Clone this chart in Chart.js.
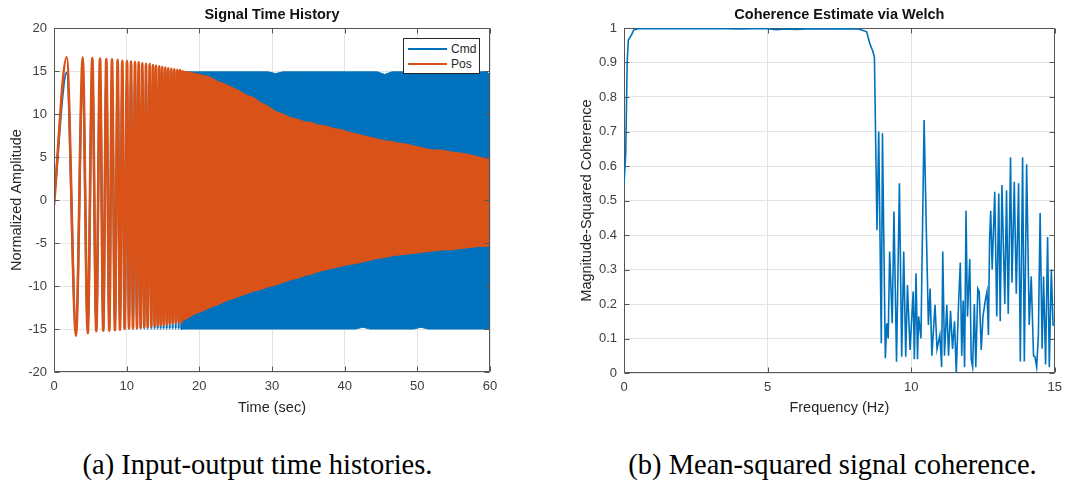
<!DOCTYPE html>
<html>
<head>
<meta charset="utf-8">
<script src="https://cdn.jsdelivr.net/npm/chart.js@4/dist/chart.umd.min.js"></script>
<style>
  body { margin: 0; width: 1069px; height: 481px; background: #fff; position: relative; overflow: hidden;
         font-family: "Liberation Sans", Arial, sans-serif; }
  .panel { position: absolute; top: 0; height: 425px; }
  #legend { position: absolute; left: 403px; top: 38px; width: 75px; height: 34px;
            border: 1px solid #262626; background: #fff; font-size: 12px; color: #262626; }
  #legend .item { position: absolute; left: 4px; height: 14px; line-height: 14px; }
  #legend .swatch { position: absolute; left: 0; top: 6px; width: 39px; height: 2px; }
  #legend .text { position: absolute; left: 43px; top: 0; }
  .caption { position: absolute; top: 447px; line-height: 36px; text-align: center;
             font-family: "Liberation Serif", "Times New Roman", serif; font-size: 28.5px; color: #000; }
</style>
</head>
<body>
<div class="panel" style="left:0; width:520px"><canvas id="signal"></canvas></div>
<div class="panel" style="left:560px; width:509px"><canvas id="coherence"></canvas></div>
<div id="legend">
  <div class="item" style="top:3px"><span class="swatch" style="background:#0072BD"></span><span class="text">Cmd</span></div>
  <div class="item" style="top:18px"><span class="swatch" style="background:#D95319"></span><span class="text">Pos</span></div>
</div>
<div class="caption" style="left:0; width:515px">(a) Input-output time histories.</div>
<div class="caption" style="left:600px; width:465px">(b) Mean-squared signal coherence.</div>

<script>
// ---- signal time history (left) ----
const timeTicks = [0, 10, 20, 30, 40, 50, 60]
const ampTicks = [-20, -15, -10, -5, 0, 5, 10, 15, 20]

// peaks and troughs of the sweep while they are still separable (sec)
const sweepTime = [
  0, 1.75, 3.03, 3.95, 4.64, 5.27, 5.82, 6.33, 6.78, 7.20, 7.61, 7.98, 8.39,
  8.76, 9.08, 9.40, 9.72, 10.05, 10.32, 10.60, 10.87, 11.15, 11.42, 11.65, 11.93,
  12.15, 12.42, 12.66, 12.89, 13.17, 13.39, 13.62, 13.85, 14.04, 14.27, 14.49,
  14.68, 14.90, 15.09, 15.32, 15.51, 15.73, 15.92, 16.15, 16.33, 16.56, 16.75,
  16.97, 17.16, 17.34, 17.52, 17.71
]
const cmdSweep = [
  0, 14.8, -15.0, 14.9, -15.0, 14.9, -15.0, 14.9, -15.0, 14.9, -15.0, 14.9, -15.0,
  14.9, -15.0, 14.9, -15.0, 14.9, -15.0, 14.9, -15.0, 14.9, -15.0, 14.9, -15.0,
  14.9, -15.0, 14.9, -15.0, 14.9, -15.0, 14.9, -15.0, 14.9, -15.0, 14.9,
  -15.0, 14.9, -15.0, 14.9, -15.0, 14.9, -15.0, 14.9, -15.0, 14.9, -15.0,
  14.9, -15.0, 14.9, -15.0, 14.9
]
const posSweep = [
  -0.6, 16.6, -15.8, 16.6, -15.5, 16.5, -15.25, 16.45, -15.2, 16.4, -15.2, 16.35, -15.15,
  16.3, -15.1, 16.2, -15.0, 16.15, -14.95, 16.1, -14.9, 16.05, -14.9, 16.0, -14.85,
  15.9, -14.8, 15.85, -14.75, 15.8, -14.7, 15.7, -14.65, 15.6, -14.6, 15.55,
  -14.55, 15.45, -14.5, 15.4, -14.45, 15.3, -14.4, 15.25, -14.35, 15.2, -14.3,
  15.15, -14.25, 15.1, -14.2, 15.05
]

// envelopes once the oscillation is too dense to separate
const bandTime = [
  17.5, 18.5, 19.5, 20.5, 21.5, 22.5, 23.5, 24.5, 25.5, 26.5, 27.5, 28.5, 29.5, 30.5,
  31.5, 32.5, 33.5, 34.5, 35.5, 36.5, 37.5, 38.5, 39.5, 40.5, 41.5, 42.5, 43.5, 44.5,
  45.5, 46.5, 47.5, 48.5, 49.5, 50.5, 51.5, 52.5, 53.5, 54.5, 55.5, 56.5, 57.5, 58.5,
  59.5, 60
]
const cmdTop = [
  14.9, 14.9, 14.9, 14.9, 14.9, 14.9, 14.9, 14.9, 14.9, 14.9, 14.9, 14.9, 14.9, 14.7,
  14.9, 14.9, 14.9, 14.9, 14.9, 14.9, 14.9, 14.9, 14.9, 14.9, 14.9, 14.9, 14.9, 14.9,
  14.6, 14.9, 14.9, 14.9, 14.9, 14.9, 14.7, 14.9, 14.9, 14.9, 14.9, 14.9, 14.9, 14.9,
  14.9, 14.6
]
const cmdBottom = [
  -15.0, -15.0, -15.0, -15.0, -15.0, -15.0, -15.0, -15.0, -15.0, -15.0, -15.0, -15.0, -15.0, -15.0,
  -15.0, -15.0, -15.0, -15.0, -15.0, -15.0, -15.0, -15.0, -15.0, -15.0, -15.0, -14.8, -15.0, -15.0,
  -15.0, -15.0, -15.0, -15.0, -15.0, -14.8, -15.0, -15.0, -15.0, -15.0, -15.0, -15.0, -15.0, -15.0,
  -15.0, -14.9
]
const posTop = [
  15.0, 14.9, 14.7, 14.5, 14.3, 13.8, 13.5, 13.1, 12.7, 12.2, 11.9, 11.3, 10.9, 10.3,
  10.0, 9.6, 9.4, 9.1, 9.0, 8.7, 8.6, 8.3, 8.2, 7.9, 7.7, 7.5, 7.3, 7.1,
  6.9, 6.8, 6.6, 6.5, 6.3, 6.1, 5.9, 5.8, 5.8, 5.6, 5.5, 5.4, 5.2, 5.0,
  4.8, 4.7
]
const posBottom = [
  -14.1, -13.7, -13.2, -12.9, -12.5, -12.2, -11.8, -11.5, -11.2, -10.9, -10.6, -10.4, -10.1, -9.9,
  -9.6, -9.3, -9.1, -8.8, -8.6, -8.3, -8.1, -7.9, -7.7, -7.5, -7.4, -7.2, -7.0, -6.8,
  -6.7, -6.5, -6.4, -6.3, -6.2, -6.1, -6.0, -5.9, -5.8, -5.8, -5.7, -5.6, -5.5, -5.4,
  -5.4, -5.3
]

// ---- coherence estimate (right) ----
const freqTicks = [0, 5, 10, 15]
const cohTicks = [0, 0.1, 0.2, 0.3, 0.4, 0.5, 0.6, 0.7, 0.8, 0.9, 1]
const cohFreq = [
  0, 0.06, 0.11, 0.15, 0.26, 0.34, 0.49, 0.9, 1.5, 2.0, 2.5, 3.0, 3.5, 4.0, 4.5, 5.0,
  5.3, 5.6, 6.0, 6.5, 7.0, 7.5, 8.0, 8.16, 8.33, 8.45, 8.56, 8.67, 8.72,
  8.81, 8.87, 8.96, 9.00, 9.10, 9.15, 9.20, 9.25, 9.34, 9.40, 9.49, 9.59, 9.67, 9.74,
  9.81, 9.87, 9.96, 10.07, 10.11, 10.17, 10.22, 10.26, 10.34, 10.45, 10.53, 10.60,
  10.66, 10.72, 10.83, 10.90, 11.00, 11.06, 11.10, 11.16, 11.24, 11.30, 11.37, 11.44,
  11.51, 11.57, 11.65, 11.71, 11.76, 11.81, 11.86, 11.91, 11.96, 12.04, 12.09, 12.14,
  12.20, 12.25, 12.32, 12.37, 12.44, 12.50, 12.58, 12.64, 12.69, 12.73, 12.77, 12.82,
  12.91, 12.98, 13.05, 13.10, 13.16, 13.26, 13.32, 13.38, 13.46, 13.51, 13.59, 13.66,
  13.74, 13.80, 13.88, 13.94, 14.02, 14.11, 14.18, 14.26, 14.31, 14.37, 14.43, 14.49,
  14.56, 14.61, 14.68, 14.75, 14.81, 14.88, 14.94, 15.0
]
const cohValue = [
  0.545, 0.637, 0.898, 0.965, 0.98, 0.994, 0.998, 0.999, 0.998, 0.999, 0.998, 0.999, 0.998, 0.997, 0.998, 0.998,
  0.995, 0.997, 0.996, 0.998, 0.997, 0.998, 0.997, 0.997, 0.993, 0.989, 0.955, 0.931, 0.915,
  0.414, 0.70, 0.086, 0.695, 0.043, 0.144, 0.10, 0.352, 0.144, 0.468, 0.033, 0.55, 0.047, 0.352,
  0.047, 0.255, 0.067, 0.236, 0.04, 0.289, 0.04, 0.164, 0.10, 0.733, 0.404, 0.139,
  0.245, 0.05, 0.198, 0.069, 0.11, 0.017, 0.352, 0.05, 0.198, 0.05, 0.18, 0.07,
  0.15, 0.0, 0.2, 0.32, 0.05, 0.21, 0.017, 0.47, 0.164, 0.33, 0.04, 0.017,
  0.2, 0.017, 0.245, 0.236, 0.067, 0.164, 0.21, 0.236, 0.11, 0.385, 0.47, 0.30,
  0.525, 0.164, 0.52, 0.15, 0.545, 0.20, 0.53, 0.172, 0.625, 0.262, 0.554, 0.23,
  0.55, 0.033, 0.625, 0.033, 0.605, 0.139, 0.28, 0.05, 0.047, 0.017, 0.11, 0.464,
  0.07, 0.28, 0.025, 0.394, 0.017, 0.30, 0.139, 0.14
]

const CMD = "#0072BD"
const POS = "#D95319"
const INK = "#262626"

Chart.defaults.font.family = "'Liberation Sans', Arial, sans-serif"
Chart.defaults.color = "#404040"
Chart.defaults.animation = false
Chart.defaults.events = []

const pts = (xs, ys) => xs.map((x, i) => ({ x, y: ys[i] }))

// matlab style box with inward ticks on all four sides
function drawFrame(chart) {
  const { ctx, chartArea: a, scales: { x, y } } = chart
  const l = Math.round(a.left) + 0.5, r = Math.round(a.right) - 0.5
  const t = Math.round(a.top) + 0.5, b = Math.round(a.bottom) - 0.5
  ctx.save()
  ctx.strokeStyle = "#555"
  ctx.lineWidth = 1
  ctx.beginPath()
  ctx.rect(l, t, r - l, b - t)
  x.ticks.forEach(tk => {
    const px = Math.round(x.getPixelForValue(tk.value)) + 0.5
    ctx.moveTo(px, b); ctx.lineTo(px, b - 5)
    ctx.moveTo(px, t); ctx.lineTo(px, t + 5)
  })
  y.ticks.forEach(tk => {
    const py = Math.round(y.getPixelForValue(tk.value)) + 0.5
    ctx.moveTo(l, py); ctx.lineTo(l + 5, py)
    ctx.moveTo(r, py); ctx.lineTo(r - 5, py)
  })
  ctx.stroke()
  ctx.restore()
}
const frameOnTop = { id: "frameOnTop", afterDatasetsDraw: drawFrame }
const frameBelow = { id: "frameBelow", beforeDatasetsDraw: drawFrame }

function axisOptions(ticks, min, max, title, fit, titlePad) {
  return {
    type: "linear",
    min, max,
    afterBuildTicks: s => { s.ticks = ticks.map(v => ({ value: v })) },
    afterFit: fit,
    grid: { color: "#e3e3e3", drawTicks: false },
    border: { display: false },
    ticks: { padding: 7, font: { size: 13 }, callback: v => String(+v.toFixed(1)) },
    title: { display: true, text: title, color: INK, font: { size: 14.5 }, padding: titlePad }
  }
}

function titleOptions(text) {
  return {
    display: true, text, fullSize: false, color: "#111",
    font: { size: 14.5, weight: "bold" },
    padding: { top: 6.3, bottom: 4.3 }
  }
}

new Chart(document.getElementById("signal"), {
  type: "line",
  data: {
    datasets: [
      { label: "Pos", data: pts(sweepTime, posSweep), borderColor: POS, borderWidth: 2.6,
        cubicInterpolationMode: "monotone", fill: false, order: 0 },
      { label: "Pos top", data: pts(bandTime, posTop), borderColor: POS, backgroundColor: POS,
        borderWidth: 1, fill: "+1", order: 0 },
      { label: "Pos bottom", data: pts(bandTime, posBottom), borderColor: POS,
        borderWidth: 1, fill: false, order: 0 },
      { label: "Cmd", data: pts(sweepTime, cmdSweep), borderColor: CMD, borderWidth: 2.2,
        cubicInterpolationMode: "monotone", fill: false, order: 1 },
      { label: "Cmd top", data: pts(bandTime, cmdTop), borderColor: CMD, backgroundColor: CMD,
        borderWidth: 1, fill: "+1", order: 1 },
      { label: "Cmd bottom", data: pts(bandTime, cmdBottom), borderColor: CMD,
        borderWidth: 1, fill: false, order: 1 }
    ]
  },
  options: {
    responsive: true,
    maintainAspectRatio: false,
    layout: { padding: { left: 0, right: 30, top: 0, bottom: 0 } },
    elements: { point: { radius: 0 }, line: { tension: 0 } },
    scales: {
      x: axisOptions(timeTicks, 0, 60, "Time (sec)", s => { s.height = 53 }, { bottom: 8.3 }),
      y: axisOptions(ampTicks, -20, 20, "Normalized Amplitude", s => { s.width = 54 }, { top: 8.3 })
    },
    plugins: {
      legend: { display: false },
      tooltip: { enabled: false },
      title: titleOptions("Signal Time History")
    }
  },
  plugins: [frameOnTop]
})

new Chart(document.getElementById("coherence"), {
  type: "line",
  data: {
    datasets: [
      { label: "Coherence", data: pts(cohFreq, cohValue), borderColor: CMD, borderWidth: 1.6, fill: false }
    ]
  },
  options: {
    responsive: true,
    maintainAspectRatio: false,
    layout: { padding: { left: 0, right: 8, top: 0, bottom: 0 } },
    elements: { point: { radius: 0 }, line: { tension: 0 } },
    scales: {
      x: axisOptions(freqTicks, 0, 15, "Frequency (Hz)", s => { s.height = 52 }, { bottom: 8.3 }),
      y: axisOptions(cohTicks, 0, 1, "Magnitude-Squared Coherence", s => { s.width = 64 }, { top: 18.3 })
    },
    plugins: {
      legend: { display: false },
      tooltip: { enabled: false },
      title: titleOptions("Coherence Estimate via Welch")
    }
  },
  plugins: [frameBelow]
})
</script>
</body>
</html>
